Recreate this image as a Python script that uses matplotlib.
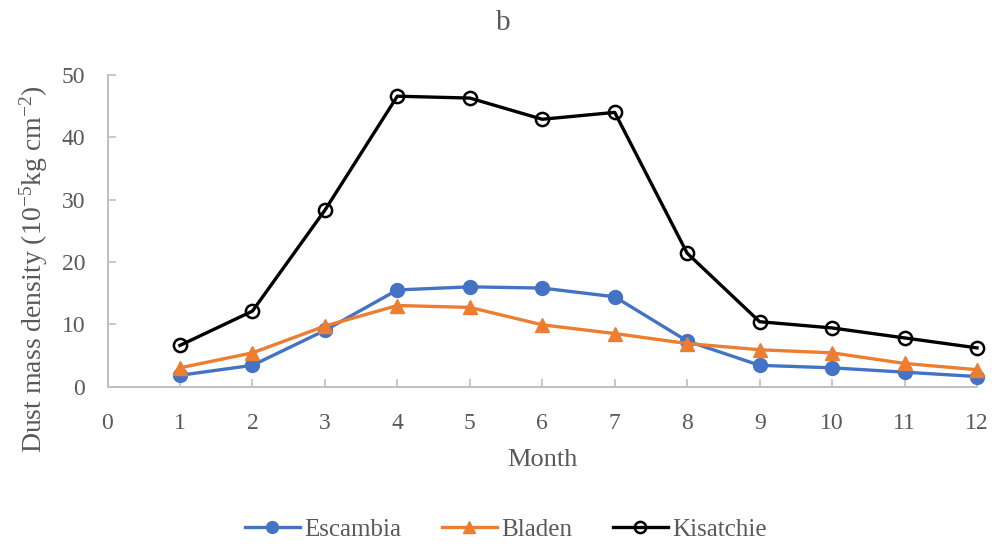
import matplotlib
matplotlib.use("Agg")
import matplotlib.pyplot as plt

# values
months = [1, 2, 3, 4, 5, 6, 7, 8, 9, 10, 11, 12]
escambia = [1.8, 3.4, 9.0, 15.5, 16.0, 15.8, 14.4, 7.3, 3.4, 3.0, 2.3, 1.6]
bladen = [3.0, 5.4, 9.7, 13.0, 12.7, 9.9, 8.5, 6.9, 5.9, 5.4, 3.7, 2.7]
kisatchie = [6.6, 12.1, 28.3, 46.6, 46.3, 42.9, 44.0, 21.4, 10.4, 9.4, 7.8, 6.2]
xticks = list(range(0, 13))
yticks = [0, 10, 20, 30, 40, 50]

plt.rcParams["font.family"] = ["Liberation Serif", "DejaVu Serif"]
plt.rcParams["mathtext.fontset"] = "custom"
plt.rcParams["mathtext.rm"] = "Liberation Serif"
plt.rcParams["mathtext.it"] = "Liberation Serif:italic"

grey = "#595959"
spine_col = "#bfbfbf"

fig = plt.figure(figsize=(10, 5.48), dpi=100)
ax = fig.add_axes([0.1075, 0.2947, 0.8695, 0.5684])

ax.plot(months, escambia, color="#4472C4", lw=2.4, marker="o", ms=10,
        label="Escambia", clip_on=False, zorder=3)
ax.plot(months, bladen, color="#ED7D31", lw=2.4, marker="^", ms=10,
        label="Bladen", clip_on=False, zorder=3)
ax.plot(months, kisatchie, color="black", lw=2.4, marker="o", ms=9.5,
        mfc="none", mew=1.8, label="Kisatchie", clip_on=False, zorder=4)

ax.set_xlim(0, 12)
ax.set_ylim(0, 50)
ax.set_xticks(xticks)
ax.set_yticks(yticks)
ax.tick_params(direction="in", colors=spine_col, labelcolor=grey,
               labelsize=17, length=6, width=1.2)
ax.tick_params(axis="x", pad=19)
ax.tick_params(axis="y", pad=16)
for s in ["top", "right"]:
    ax.spines[s].set_visible(False)
for s in ["left", "bottom"]:
    ax.spines[s].set_color(spine_col)
    ax.spines[s].set_linewidth(1.4)

ax.set_xlabel("Month", fontsize=19, color=grey)
ax.xaxis.set_label_coords(0.5, -0.20)
ax.set_ylabel(r"Dust mass density (10$^{\mathrm{-5}}$kg cm$^{\mathrm{-2}}$)",
              fontsize=20, color=grey)
ax.yaxis.set_label_coords(-0.066, 0.375)
fig.text(0.503, 0.958, "b", fontsize=21, color=grey, ha="center", va="center")

fig.legend(loc="center", bbox_to_anchor=(0.506, 0.033), ncol=3, frameon=False,
           fontsize=18, labelcolor=grey, handlelength=2.2, columnspacing=1.6,
           handletextpad=0.2, markerscale=0.85)

fig.savefig("out.png", dpi=100)
